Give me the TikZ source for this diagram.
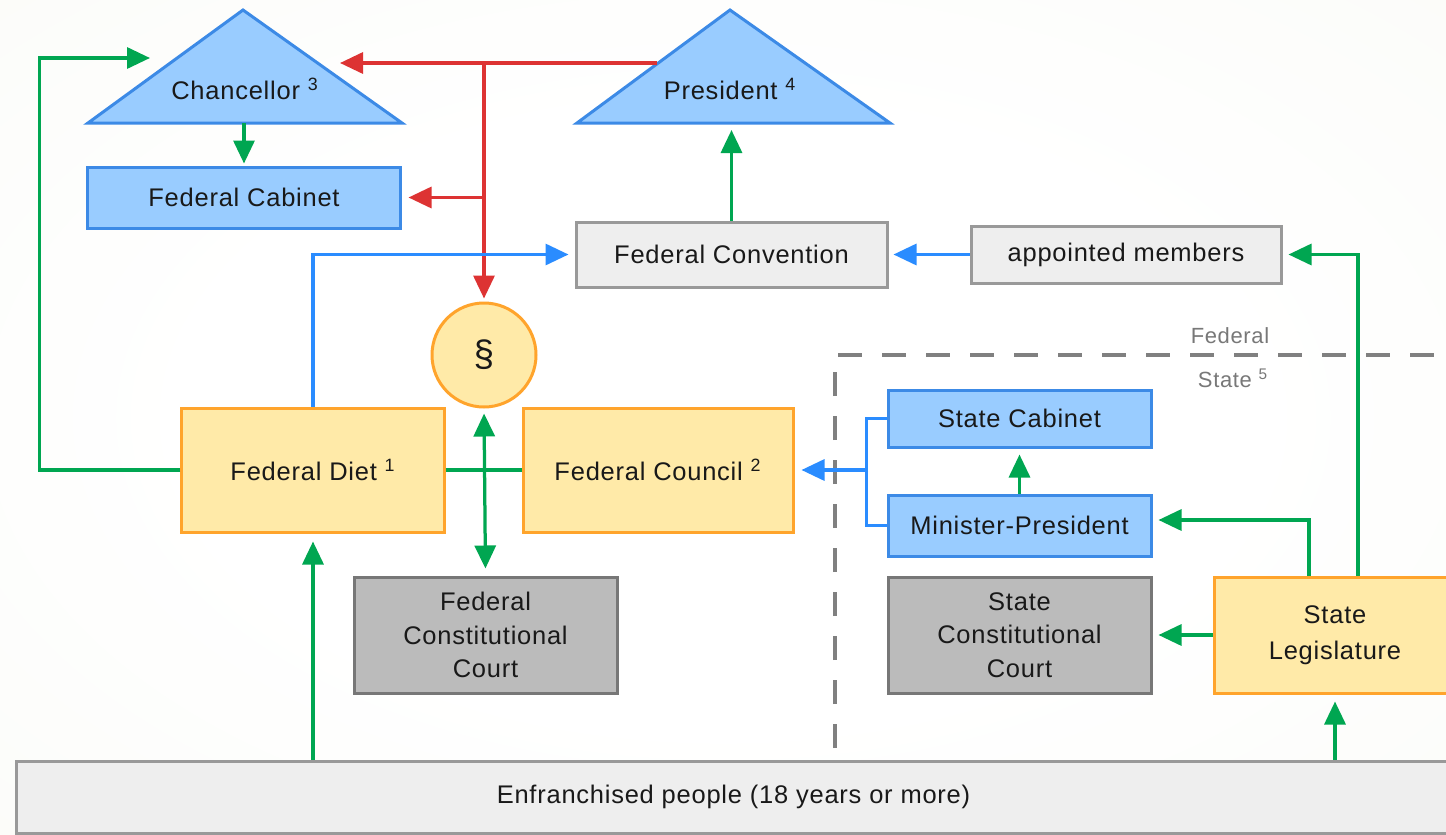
\documentclass[tikz,border=0pt]{standalone}
\usepackage{fontspec}
\setmainfont{Liberation Sans}[LetterSpace=3]
\usetikzlibrary{arrows.meta}

\definecolor{grn}{RGB}{0,166,81}
\definecolor{redl}{RGB}{221,51,51}
\definecolor{bluel}{RGB}{42,140,255}
\definecolor{bluefill}{RGB}{153,204,255}
\definecolor{blueedge}{RGB}{60,138,230}
\definecolor{yelfill}{RGB}{255,234,168}
\definecolor{yeledge}{RGB}{255,164,44}
\definecolor{courtfill}{RGB}{187,187,187}
\definecolor{courtedge}{RGB}{119,119,119}
\definecolor{boxfill}{RGB}{238,238,238}
\definecolor{boxedge}{RGB}{153,153,153}
\definecolor{txt}{RGB}{25,25,25}
\definecolor{lblgrey}{RGB}{120,120,120}
\definecolor{dashgrey}{RGB}{128,128,128}
\definecolor{bgmid}{RGB}{249,250,245}
\definecolor{bgout}{RGB}{230,236,215}

\pgfdeclareradialshading{bgshade}{\pgfpoint{0bp}{0bp}}{color(0bp)=(white); color(18bp)=(white); color(48bp)=(bgmid); color(72bp)=(bgout)}

\begin{document}
\begin{tikzpicture}[x=0.2mm, y=-0.2mm, font=\fontsize{14.5}{19}\selectfont,
    box/.style={draw, line width=0.6mm, align=center, inner sep=0pt, text=txt},
    bluebox/.style={box, draw=blueedge, fill=bluefill, minimum height=12.2mm},
    greybox/.style={box, draw=boxedge, fill=boxfill},
    yellowbox/.style={box, draw=yeledge, fill=yelfill, minimum width=52.4mm, minimum height=24.8mm},
    courtbox/.style={box, draw=courtedge, fill=courtfill, minimum width=52.6mm, minimum height=23.2mm},
    govtri/.style={draw=blueedge, fill=bluefill, line width=0.6mm, line join=miter},
    gline/.style={line width=0.65mm, draw=grn},
    rline/.style={line width=0.65mm, draw=redl},
    bline/.style={line width=0.65mm, draw=bluel},
    tip/.style={-{Triangle[length=4.6mm,width=4.2mm]}},
    dashsep/.style={draw=dashgrey, line width=0.8mm, dash pattern=on 4.8mm off 4mm},
    lbl/.style={text=lblgrey, font=\fontsize{12.5}{15}\selectfont}]
    \clip (0,0) rectangle (1446,835);
    \shade[shading=bgshade] (0,0) rectangle (1446,835);
    \draw[dashsep] (835,748) -- (835,355) -- (1450,355);
    \node[lbl] (fedlabel) at (1230,336) {Federal};
    \node[lbl] (statelabel) at (1233,378) {State \textsuperscript{5}};

    % federal level
    \draw[govtri] (88,123) -- (243,10) -- (402,123) -- cycle;
    \node[text=txt] (chancellor) at (245,89) {Chancellor \textsuperscript{3}};
    \draw[govtri] (577,123) -- (730,10) -- (890,123) -- cycle;
    \node[text=txt] (president) at (730,89) {President \textsuperscript{4}};
    \coordinate (chanin) at (150,58);
    \coordinate (chanright) at (340,63);
    \coordinate (chanbase) at (244,123);
    \coordinate (presleft) at (657,63);
    \coordinate (presbase) at (731.5,130);
    \coordinate (redtop) at (484,63);
    \node[bluebox, minimum width=62.4mm] (cabinet) at (244,197.5) {Federal Cabinet};
    \node[greybox, minimum width=62.2mm, minimum height=13mm] (convention) at (731.5,254.5) {Federal Convention};
    \node[greybox, minimum width=62mm, minimum height=11.4mm] (appointed) at (1126,254.5) {appointed members};
    \node[circle, draw=yeledge, fill=yelfill, line width=0.6mm, minimum size=20.8mm, inner sep=0pt,
          text=txt, font=\fontsize{21}{24}\selectfont] (para) at (484,355) {\S};
    \node[yellowbox] (diet) at (313,470) {Federal Diet \textsuperscript{1}};
    \node[yellowbox, minimum width=54mm] (council) at (658,470) {Federal Council \textsuperscript{2}};
    \node[courtbox] (fcc) at (485.5,635) {Federal\\Constitutional\\Court};

    % state level
    \node[bluebox, minimum width=52.6mm, minimum height=11.4mm] (scabinet) at (1019.5,418.5) {State Cabinet};
    \node[bluebox, minimum width=52.6mm] (minpres) at (1019.5,525.5) {Minister-President};
    \node[courtbox] (scc) at (1019.5,635) {State\\Constitutional\\Court};
    \node[yellowbox, minimum width=48.4mm, minimum height=23.2mm,
          font=\fontsize{14.5}{23}\selectfont] (legis) at (1335,635) {\raisebox{-0.8mm}{State}\\Legislature};
    \node[greybox, minimum width=286.6mm, minimum height=14.4mm] (people) at (733.5,797) {Enfranchised people (18 years or more)};
    \coordinate (statejoin) at (868,470);

    \draw[gline, tip] (diet.west) -- ++(-141,0) |- (chanin);
    \draw[gline, tip, shorten >=0.4mm] (chanbase) -- (cabinet.north);
    \draw[rline, tip] (presleft) -- (chanright);
    \draw[rline, tip, shorten >=0.6mm] (redtop) -- (para.north);
    \draw[rline, tip, shorten >=1.4mm] (redtop |- cabinet.east) -- (cabinet.east);
    \draw[bline, tip, shorten >=1.2mm] (diet.north) |- (convention.west);
    \draw[gline, tip] (convention.north) -- (presbase);
    \draw[bline, tip, shorten >=1mm] (appointed.west) -- (convention.east);
    \draw[gline, tip, shorten >=1.2mm] ([xshift=4.6mm]legis.north) |- (appointed.east);
    \draw[gline, tip, shorten >=1.2mm] ([xshift=-5.2mm]legis.north) |- ([yshift=1.1mm]minpres.east);
    \draw[gline, tip, shorten >=1.2mm] (minpres.north) -- (scabinet.south);
    \draw[bline] (scabinet.west) -- ++(-20,0) |- (minpres.west);
    \draw[bline, tip, shorten >=1.4mm] (statejoin) -- (council.east);
    \draw[gline] (diet.east) -- (council.west);
    \draw[gline, {Triangle[length=4.6mm,width=4.2mm]}-{Triangle[length=4.6mm,width=4.2mm]},
          shorten <=1mm, shorten >=1.4mm] (para.south) -- (fcc.north);
    \draw[gline, tip, shorten >=1.2mm] (legis.west) -- (scc.east);
    \draw[gline, tip, shorten >=1.6mm] (people.north -| diet.south) -- (diet.south);
    \draw[gline, tip, shorten >=1.4mm] (people.north -| legis.south) -- (legis.south);
\end{tikzpicture}
\end{document}
